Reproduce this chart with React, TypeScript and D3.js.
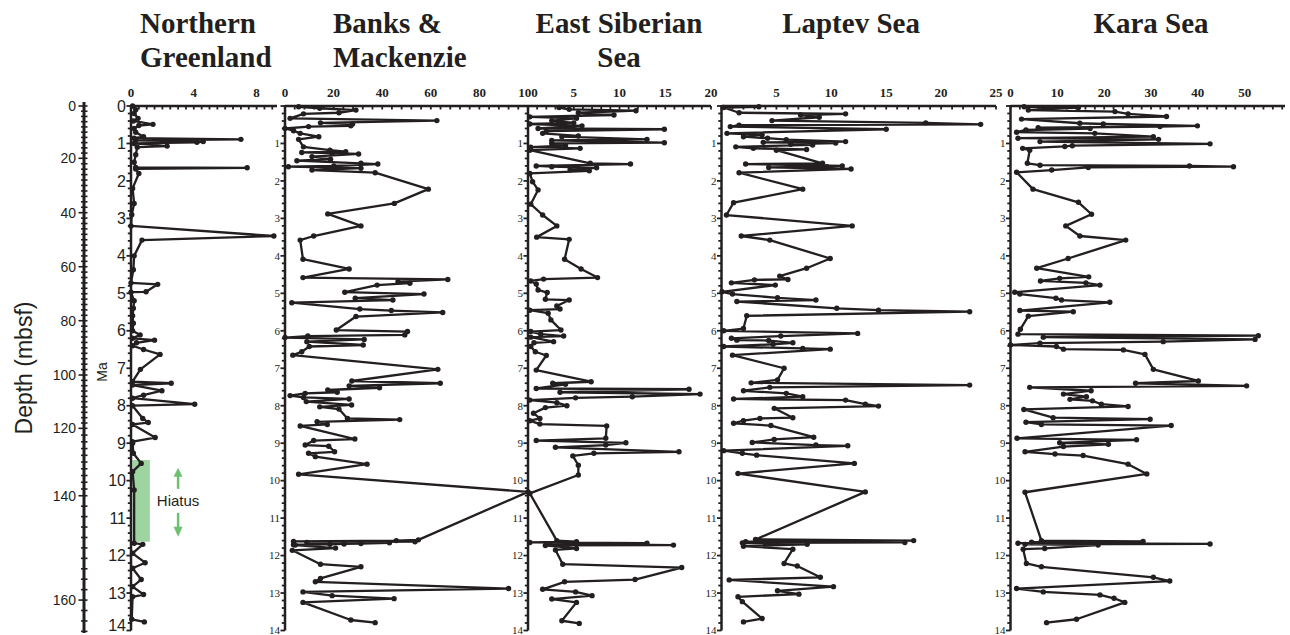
import React from "react";
import * as d3 from "d3";

// ---- Age model: depth (mbsf) tie points and their ages (Ma)
const depthTies = [0, 20, 40, 60, 80, 100, 120, 140, 160];
const ageTies = [0, 1.396, 2.848, 4.29, 5.731, 7.181, 8.604, 10.403, 13.188];
const depthLabels = [0, 20, 40, 60, 80, 100, 120, 140, 160];
const ageLabels = d3.range(0, 15);

// ---- Series: [age (Ma), value]
const greenland: [number, number][] = [
  [0.0,0.1],[0.1,0.3],[0.2,0.2],[0.33,0.45],[0.4,0.15],[0.49,1.4],[0.52,0.5],[0.6,0.2],[0.7,0.3],[0.82,0.8],[0.86,0.2],[0.89,7.0],[0.92,0.3],[0.95,4.6],[0.97,4.2],[1.0,0.2],[1.07,2.3],[1.1,0.4],[1.3,0.3],[1.5,0.2],[1.64,0.3],[1.65,7.4],[1.68,0.3],[1.8,0.5],[2.2,0.1],[2.6,0.2],[2.9,0.05],[3.2,0],[3.47,9.1],[3.58,0.7],[4.0,0.2],[4.37,0.15],[4.72,0],[4.76,1.7],[4.96,0.96],[4.97,0],[5.2,0.2],[5.4,0.15],[5.6,0.1],[5.8,0.15],[6.0,0.1],[6.11,0.58],[6.2,0.1],[6.25,1.5],[6.32,0.35],[6.4,0.1],[6.5,0.8],[6.63,1.85],[7.03,0.6],[7.36,0.1],[7.4,2.56],[7.45,0.1],[7.6,1.97],[7.72,0.8],[7.8,0.1],[7.96,4.06],[8.0,0.1],[8.34,0.75],[8.45,1.1],[8.5,0.1],[8.85,1.54],[8.96,0.1],[9.0,0.1],[9.27,0.15],[9.54,0.65],[9.76,0.1],[10.25,0.2],[11.67,0.2],[11.7,0.75],[11.94,0.1],[12.19,0.9],[12.34,0.1],[12.64,0.65],[12.83,0.1],[13.04,0.8],[13.1,0.1],[13.7,0.05],[13.77,0.85]
];

const banks: [number, number][] = [
  [0.02,5.6],[0.06,14.3],[0.11,29.2],[0.18,22.2],[0.21,7.6],[0.33,2.1],[0.39,62.5],[0.45,14.6],[0.48,27.8],[0.53,27.1],[0.55,9.7],[0.6,0],[0.66,3.5],[0.73,6.25],[0.82,13.9],[0.89,5.6],[1.09,7.6],[1.18,18.5],[1.22,25],[1.24,6.9],[1.26,19.4],[1.28,30.3],[1.35,11.1],[1.42,18.75],[1.46,4.9],[1.53,31.25],[1.55,38.2],[1.6,20.1],[1.62,1.4],[1.66,31.25],[1.71,11.1],[1.78,37.1],[2.22,59],[2.6,45],[2.88,17.6],[3.2,31.25],[3.47,11.8],[3.58,6.25],[4.09,7.4],[4.35,26.4],[4.58,7.4],[4.63,67],[4.69,46.5],[4.73,51.4],[4.78,37.9],[4.97,24.6],[5.02,57.2],[5.13,28.9],[5.18,44.4],[5.25,2.8],[5.42,30.8],[5.46,43.75],[5.51,64.9],[5.62,29.2],[5.98,21.1],[6.02,50.4],[6.11,49.3],[6.14,9.4],[6.18,0],[6.23,32.6],[6.29,9],[6.38,32.2],[6.42,10],[6.56,6.9],[6.65,3.2],[7.03,62.9],[7.34,27.5],[7.4,63.9],[7.47,26.4],[7.52,38.9],[7.58,17.6],[7.64,21.5],[7.67,8.3],[7.73,2.1],[7.78,7.6],[7.82,26.4],[7.89,8.75],[7.98,27.4],[8.03,14.3],[8.09,22.2],[8.34,25.7],[8.37,47.2],[8.43,13.2],[8.5,17.4],[8.54,6.25],[8.89,28.75],[8.93,11.8],[9.05,8.3],[9.08,18],[9.23,20.4],[9.27,9.7],[9.36,12.5],[9.56,33.75],[9.83,5.6],[10.3,100],[11.58,54.9],[11.6,45.8],[11.62,3.5],[11.63,53.5],[11.65,9],[11.66,43],[11.68,31.25],[11.69,24.3],[11.7,18.5],[11.71,3.5],[11.72,4.2],[11.8,20.8],[11.86,3],[12.23,14.6],[12.3,31.25],[12.61,14.6],[12.7,12.5],[12.88,92],[12.97,7.4],[13.07,19.4],[13.15,44.9],[13.25,7.4],[13.72,27.1],[13.79,37.1]
];

const eastSiberian: [number, number][] = [
  [0.04,3.4],[0.09,4.5],[0.125,11.8],[0.18,5.5],[0.24,9.4],[0.29,0.2],[0.33,5.3],[0.39,2.6],[0.45,5.0],[0.48,0.2],[0.53,5.9],[0.6,1.1],[0.62,14.9],[0.67,2.0],[0.73,1.6],[0.8,5.5],[0.82,3.7],[0.89,13.0],[0.92,2.6],[0.98,14.9],[1.0,2.6],[1.06,4.1],[1.1,0.3],[1.13,5.7],[1.18,0.2],[1.53,6.8],[1.55,11.2],[1.6,0.9],[1.62,2.6],[1.65,7.5],[1.7,4.6],[1.73,6.7],[1.8,0.2],[2.02,0.5],[2.24,1.1],[2.62,0.3],[2.91,1.6],[3.2,3.15],[3.5,0.95],[3.56,4.5],[4.09,4.0],[4.35,5.8],[4.58,7.6],[4.62,1.7],[4.67,0.3],[4.75,0.9],[4.91,1.1],[4.98,2.1],[5.16,1.9],[5.18,4.5],[5.34,3.15],[5.42,3.5],[5.45,0.2],[5.53,2.2],[5.71,2.5],[5.98,3.6],[6.02,0.3],[6.09,1.4],[6.14,3.9],[6.17,0.3],[6.29,2.8],[6.32,0.65],[6.42,0.3],[6.56,0.8],[6.66,2.0],[7.05,0.9],[7.36,6.9],[7.4,2.7],[7.43,4.1],[7.54,0.9],[7.56,17.6],[7.64,3.5],[7.69,18.8],[7.76,11.4],[7.79,5.2],[7.85,0.2],[7.92,3.15],[8.0,4.25],[8.05,1.9],[8.2,0.6],[8.34,1.3],[8.4,0.2],[8.49,1.3],[8.54,8.6],[8.87,8.5],[8.93,0.9],[8.99,10.7],[9.05,8.5],[9.11,3.0],[9.23,16.5],[9.27,7.2],[9.34,4.9],[9.59,5.5],[9.85,5.5],[10.34,0.2],[11.6,3.15],[11.63,5.3],[11.65,0.2],[11.67,13],[11.69,2.4],[11.72,15.9],[11.73,1.9],[11.81,5.3],[11.85,3.0],[12.23,3.8],[12.32,16.8],[12.64,11.7],[12.7,4.0],[12.9,1.6],[12.97,5.2],[13.07,7.0],[13.16,2.6],[13.25,5.3],[13.74,3.7],[13.81,5.6]
];

const laptev: [number, number][] = [
  [0.02,3.4],[0.04,0.2],[0.18,1.6],[0.21,11.3],[0.24,7.2],[0.3,8.9],[0.39,4.6],[0.45,18.6],[0.49,23.6],[0.51,1.6],[0.55,0.8],[0.62,15.0],[0.73,0.5],[0.77,3.7],[0.82,2.0],[0.86,4.2],[0.9,5.9],[0.95,11.3],[0.97,3.8],[0.99,10.4],[1.02,6.3],[1.04,8.3],[1.09,1.3],[1.13,2.9],[1.16,7.75],[1.18,5.0],[1.53,9.2],[1.55,2.2],[1.6,11.0],[1.62,9.6],[1.64,4.3],[1.68,11.8],[1.78,1.6],[2.22,7.4],[2.58,1.1],[2.91,0.45],[3.2,11.9],[3.47,1.8],[3.58,4.4],[4.07,9.9],[4.33,7.75],[4.54,5.3],[4.63,6.05],[4.64,3.0],[4.72,0.9],[4.78,4.9],[4.96,0.05],[5.02,1.0],[5.12,5.1],[5.18,8.6],[5.22,1.4],[5.4,10.5],[5.45,14.3],[5.49,22.6],[5.6,2.3],[5.94,2.0],[6.0,0.2],[6.07,12.4],[6.14,5.4],[6.2,0.9],[6.25,1.4],[6.26,4.3],[6.32,6.5],[6.36,4.7],[6.42,0.2],[6.47,7.4],[6.49,9.9],[6.65,1.0],[7.0,5.7],[7.31,5.1],[7.39,2.7],[7.45,22.6],[7.51,4.4],[7.6,2.0],[7.67,5.9],[7.76,7.4],[7.82,1.1],[7.85,11.3],[7.96,13.1],[8.01,14.3],[8.07,4.8],[8.32,6.5],[8.34,3.5],[8.4,2.0],[8.47,1.1],[8.53,4.5],[8.84,8.4],[8.9,4.8],[8.98,2.8],[9.05,8.6],[9.07,11.5],[9.2,0.2],[9.27,1.9],[9.32,3.2],[9.54,12.1],[9.81,1.5],[10.3,13.1],[11.57,3.1],[11.6,17.5],[11.63,2.2],[11.65,16.7],[11.66,1.9],[11.68,5.1],[11.7,7.8],[11.75,2.0],[11.83,6.5],[12.21,5.7],[12.28,6.9],[12.58,9.0],[12.65,0.7],[12.83,10.2],[12.94,5.1],[13.03,7.05],[13.1,1.5],[13.23,1.9],[13.68,3.7],[13.77,2.0]
];

const kara: [number, number][] = [
  [0.02,2.9],[0.04,14.5],[0.11,3.8],[0.15,22.3],[0.21,25.1],[0.28,33.3],[0.35,2.35],[0.46,14.8],[0.48,19.8],[0.53,39.9],[0.55,31.9],[0.58,5.9],[0.6,17.0],[0.64,3.3],[0.7,1.3],[0.73,18.0],[0.82,30.5],[0.86,1.6],[0.89,31.6],[0.95,6.3],[1.01,42.6],[1.06,13.2],[1.08,11.6],[1.13,2.6],[1.18,4.1],[1.53,3.6],[1.58,6.3],[1.6,38.2],[1.62,47.6],[1.64,16.6],[1.71,8.8],[1.77,1.3],[2.22,4.8],[2.57,14.5],[2.89,17.3],[3.2,11.8],[3.47,14.8],[3.58,24.6],[4.07,12.3],[4.33,5.6],[4.56,16.7],[4.6,10.5],[4.67,6.4],[4.72,16.1],[4.78,19.1],[4.97,0.9],[5.02,2.0],[5.13,9.7],[5.18,10.9],[5.24,21.2],[5.46,2.0],[5.49,13.4],[5.61,3.8],[5.96,2.1],[6.09,1.6],[6.13,52.9],[6.17,7.0],[6.23,52.2],[6.29,32.6],[6.33,6.3],[6.38,0],[6.42,9.8],[6.49,11.3],[6.51,24.1],[6.63,28.7],[7.03,30.5],[7.34,40.1],[7.4,26.7],[7.47,50.4],[7.51,4.1],[7.6,17.2],[7.69,11.3],[7.76,16.2],[7.83,12.7],[7.87,17.5],[7.96,19.4],[8.02,25.1],[8.1,2.85],[8.32,9.1],[8.36,29.8],[8.44,3.3],[8.5,6.6],[8.53,34.3],[8.87,1.4],[8.91,26.9],[8.99,10.5],[9.03,20.9],[9.09,11.3],[9.23,3.1],[9.29,9.5],[9.33,15.5],[9.56,25.1],[9.82,29.1],[10.31,3.1],[11.6,6.6],[11.62,28.3],[11.64,4.5],[11.66,17.7],[11.67,1.6],[11.69,42.6],[11.7,3.1],[11.72,18.7],[11.81,7.3],[11.83,2.7],[12.21,3.4],[12.3,6.6],[12.58,30.5],[12.68,34.0],[12.88,1.3],[12.97,7.0],[13.05,19.1],[13.14,22.1],[13.25,24.4],[13.7,14.1],[13.79,7.7]
];

const hiatusAges = [9.45, 11.63];
const hiatusWidth = 1.2;

const INK = "#231f20";
const SANS = "'Liberation Sans', Arial, sans-serif";
const SERIF = "'Liberation Serif', 'Times New Roman', serif";

type Panel = {
  key: string;
  title: string[];
  titleX: number;
  titleAnchor: "start" | "middle";
  data: [number, number][];
  domain: [number, number];
  range: [number, number];
  labels: number[];
  minor: number;
  sansAges?: boolean;
};

const panels: Panel[] = [
  { key: "gr", title: ["Northern", "Greenland"], titleX: 140, titleAnchor: "start", data: greenland, domain: [0, 9.3], range: [131, 277], labels: [0, 4, 8], minor: 0.5, sansAges: true },
  { key: "bm", title: ["Banks &", "Mackenzie"], titleX: 333, titleAnchor: "start", data: banks, domain: [0, 100], range: [285, 528], labels: [0, 20, 40, 60, 80, 100], minor: 4 },
  { key: "es", title: ["East Siberian", "Sea"], titleX: 619, titleAnchor: "middle", data: eastSiberian, domain: [0, 20], range: [528, 711], labels: [5, 10, 15, 20], minor: 1 },
  { key: "lp", title: ["Laptev Sea"], titleX: 851, titleAnchor: "middle", data: laptev, domain: [0, 25], range: [721.5, 996], labels: [5, 10, 15, 20, 25], minor: 1 },
  { key: "ka", title: ["Kara Sea"], titleX: 1151, titleAnchor: "middle", data: kara, domain: [0, 58.6], range: [1010.5, 1285], labels: [0, 10, 20, 30, 40, 50], minor: 2 },
];

export default function App() {
  const yAge = d3.scaleLinear().domain([0, 14]).range([106, 630.5]);
  const depthToAge = d3.scaleLinear().domain(depthTies).range(ageTies);
  const yDepth = (d: number) => yAge(depthToAge(d));
  const AXIS_Y = yAge(0);
  const AXIS_BOTTOM = yAge(14);
  const depthX = 84;

  const minorAges = d3.range(0, 14.0001, 0.2);

  return (
    <svg width={1290} height={635} style={{ position: "absolute", left: 0, top: 0, background: "#fff" }}>
      {/* Depth axis */}
      <text transform={`translate(32,368) rotate(-90)`} textAnchor="middle" fontFamily={SANS} fontSize={23} fill={INK}>Depth (mbsf)</text>
      <line x1={depthX} x2={depthX} y1={102} y2={633} stroke={INK} strokeWidth={3} />
      {d3.range(0, 167, 2).map((d) => (
        <line key={"dt" + d} x1={d % 20 === 0 ? 78.5 : 81} x2={87.5} y1={yDepth(d)} y2={yDepth(d)} stroke={INK} strokeWidth={1.6} />
      ))}
      {depthLabels.map((d) => (
        <text key={"dl" + d} x={76} y={yDepth(d)} dy="0.35em" textAnchor="end" fontFamily={SANS} fontSize={14} fill={INK}>{d}</text>
      ))}

      {/* Ma label */}
      <text transform={`translate(107,372) rotate(-90)`} textAnchor="middle" fontFamily={SANS} fontSize={14} fill={INK}>Ma</text>

      {panels.map((p) => {
        const x = d3.scaleLinear().domain(p.domain).range(p.range);
        const line = d3.line<[number, number]>().x((d) => x(d[1])).y((d) => yAge(d[0]));
        const minorX = d3.range(p.domain[0], p.domain[1] + 1e-6, p.minor);
        return (
          <g key={p.key}>
            {p.title.map((t, i) => (
              <text key={i} x={p.titleX} y={33 + i * 34} textAnchor={p.titleAnchor} fontFamily={SERIF} fontWeight="bold" fontSize={29} fill={INK}>{t}</text>
            ))}
            {p.key === "gr" && (
              <g>
                <rect x={x(0) + 1.5} width={x(hiatusWidth) - x(0) - 1.5} y={yAge(hiatusAges[0])} height={yAge(hiatusAges[1]) - yAge(hiatusAges[0])} fill="#9dd49f" />
                {(() => {
                  const mid = (yAge(hiatusAges[0]) + yAge(hiatusAges[1])) / 2;
                  const ax = x(3);
                  return (
                    <g>
                      <line x1={ax} x2={ax} y1={mid - 12} y2={mid - 26} stroke="#6cc070" strokeWidth={2.5} />
                      <path d={`M${ax - 4.5},${mid - 24} L${ax + 4.5},${mid - 24} L${ax},${mid - 33} Z`} fill="#6cc070" />
                      <line x1={ax} x2={ax} y1={mid + 12} y2={mid + 28} stroke="#6cc070" strokeWidth={2.5} />
                      <path d={`M${ax - 4.5},${mid + 26} L${ax + 4.5},${mid + 26} L${ax},${mid + 36} Z`} fill="#6cc070" />
                      <text x={ax} y={mid} dy="0.35em" textAnchor="middle" fontFamily={SANS} fontSize={15} fill={INK}>Hiatus</text>
                    </g>
                  );
                })()}
              </g>
            )}
            {/* top axis */}
            <line x1={p.range[0]} x2={p.range[1]} y1={AXIS_Y} y2={AXIS_Y} stroke={INK} strokeWidth={2.5} />
            {minorX.map((v, i) => (
              <line key={"mx" + i} x1={x(v)} x2={x(v)} y1={AXIS_Y} y2={AXIS_Y + 3.5} stroke={INK} strokeWidth={1.8} />
            ))}
            {p.labels.map((v) => (
              <text key={"lx" + v} x={x(v)} y={97} textAnchor="middle" fontFamily={SERIF} fontWeight="bold" fontSize={13} fill={INK}>{v}</text>
            ))}
            {/* left age axis */}
            <line x1={p.range[0]} x2={p.range[0]} y1={AXIS_Y - 1} y2={AXIS_BOTTOM} stroke={INK} strokeWidth={2.5} />
            {minorAges.map((a, i) => (
              <line key={"ma" + i} x1={p.range[0] - (i % 5 === 0 ? 4.5 : 3.2)} x2={p.range[0]} y1={yAge(a)} y2={yAge(a)} stroke={INK} strokeWidth={1.8} />
            ))}
            {ageLabels.filter((a) => p.sansAges || a > 0).map((a) => (
              p.sansAges ? (
                <text key={"la" + a} x={p.range[0] - 5} y={yAge(a)} dy={a === 14 ? "0.05em" : "0.35em"} textAnchor="end" fontFamily={SANS} fontSize={16} fill={INK}>{a}</text>
              ) : (
                <text key={"la" + a} x={p.range[0] - 5} y={yAge(a)} dy="0.35em" textAnchor="end" fontFamily={SERIF} fontSize={11} fill={INK}>{a}</text>
              )
            ))}
            {/* data */}
            <path d={line(p.data) || ""} fill="none" stroke={INK} strokeWidth={2.3} strokeLinejoin="round" />
            {p.data.map((d, i) => (
              <circle key={"c" + i} cx={x(d[1])} cy={yAge(d[0])} r={2.7} fill={INK} />
            ))}
          </g>
        );
      })}
    </svg>
  );
}
